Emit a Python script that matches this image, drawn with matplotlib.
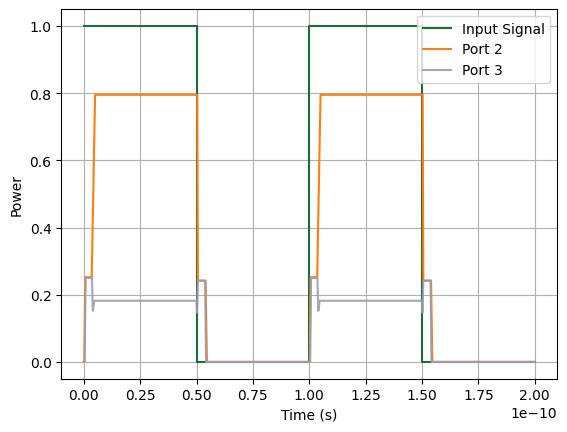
import numpy as np
import matplotlib
matplotlib.use("Agg")
import matplotlib.pyplot as plt

# 時間軸の区切り点（単位 1e-10 s）
t_input = [0.0, 0.5, 0.5, 1.0, 1.0, 1.5, 1.5, 2.0]
p_input = [1.0, 1.0, 0.0, 0.0, 1.0, 1.0, 0.0, 0.0]

t_port2 = [0.0, 0.002, 0.006, 0.035, 0.05, 0.503, 0.506, 0.54, 0.546,
           1.0, 1.002, 1.006, 1.035, 1.05, 1.503, 1.506, 1.54, 1.546, 2.0]
p_port2 = [0.0, 0.0, 0.252, 0.252, 0.795, 0.795, 0.242, 0.242, 0.0,
           0.0, 0.0, 0.252, 0.252, 0.795, 0.795, 0.242, 0.242, 0.0, 0.0]

t_port3 = [0.0, 0.004, 0.008, 0.036, 0.04, 0.046, 0.5, 0.502, 0.506, 0.538, 0.542,
           1.0, 1.004, 1.008, 1.036, 1.04, 1.046, 1.5, 1.502, 1.506, 1.538, 1.542, 2.0]
p_port3 = [0.0, 0.0, 0.25, 0.25, 0.152, 0.182, 0.182, 0.147, 0.242, 0.242, 0.0,
           0.0, 0.0, 0.25, 0.25, 0.152, 0.182, 0.182, 0.147, 0.242, 0.242, 0.0, 0.0]

scale = 1e-10

fig, ax = plt.subplots(figsize=(6.4, 4.8), dpi=100)
ax.plot(np.array(t_input) * scale, p_input, color='#1d6b3b', label='Input Signal')
ax.plot(np.array(t_port2) * scale, p_port2, color='#ff7f0e', label='Port 2')
ax.plot(np.array(t_port3) * scale, p_port3, color='#9a9cb0', alpha=0.9, label='Port 3')

ax.set_xlabel('Time (s)')
ax.set_ylabel('Power')
ax.grid(True)
ax.legend(loc='upper right')

plt.savefig('out.png', dpi=100, bbox_inches='tight')
